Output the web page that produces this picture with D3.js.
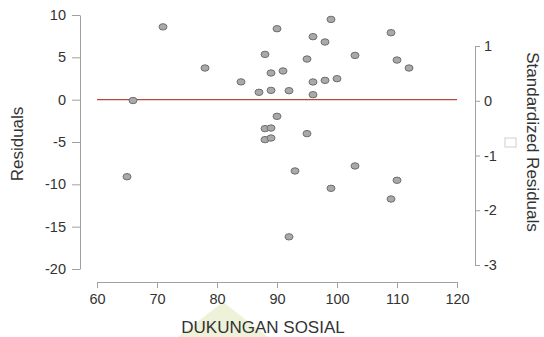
<!DOCTYPE html>
<html>
<head>
<meta charset="utf-8">
<script src="https://cdn.jsdelivr.net/npm/d3@7"></script>
<style>
  body { margin: 0; background: #fff; }
  text { font-family: "Liberation Sans", Arial, sans-serif; fill: #333; }
</style>
</head>
<body>
<script>
// predictor values (DUKUNGAN SOSIAL) and residuals
var xVals = [71, 66, 65, 78, 84, 87, 89, 92, 88, 90, 89, 91, 95, 99, 96, 98, 96, 98,
  100, 96, 103, 109, 110, 112, 90, 88, 89, 88, 89, 95, 93, 92, 103, 99, 110, 109];
var residuals = [8.6, -0.1, -9.1, 3.74, 2.1, 0.87, 1.1, 1.06, 5.35, 8.38, 3.15, 3.39, 4.8,
  9.48, 7.44, 6.81, 2.09, 2.28, 2.48, 0.59, 5.23, 7.91, 4.68, 3.74, -1.97, -3.42, -3.35,
  -4.72, -4.53, -4.01, -8.42, -16.2, -7.83, -10.47, -9.52, -11.73];

var xTicks = [60, 70, 80, 90, 100, 110, 120];
var yTicks = [10, 5, 0, -5, -10, -15, -20];
var stdTicks = [1, 0, -1, -2, -3];

var svg = d3.select('body').append('svg')
  .attr('width', 544)
  .attr('height', 337);

// faint green shape under the x title
svg.append('polygon')
  .attr('points', '223,302 178,337 268,337')
  .style('fill', '#eef2d8');

var x = d3.scaleLinear().domain([60, 120]).range([97, 457]);
var y = d3.scaleLinear().domain([-20, 10]).range([269, 15]);
var yStd = d3.scaleLinear().domain([-3, 1]).range([265, 46]);

// plain hyphen minus like the original
var plain = function(d) { return String(d); };

var styleAxis = function(g) {
  g.select('.domain').attr('stroke', '#a0a0a0');
  g.selectAll('.tick line').attr('stroke', '#a0a0a0');
  g.selectAll('.tick text')
    .style('font-size', '14.5px')
    .style('fill', '#333')
    .style('font-family', '"Liberation Sans", Arial, sans-serif');
};

svg.append('g')
  .attr('transform', 'translate(0,282)')
  .call(d3.axisBottom(x).tickValues(xTicks).tickFormat(plain)
    .tickSize(6).tickSizeOuter(0).tickPadding(6))
  .call(styleAxis);

svg.append('g')
  .attr('transform', 'translate(80,0)')
  .call(d3.axisLeft(y).tickValues(yTicks).tickFormat(plain)
    .tickSize(8).tickSizeOuter(0).tickPadding(6))
  .call(styleAxis);

svg.append('g')
  .attr('transform', 'translate(475,0)')
  .call(d3.axisRight(yStd).tickValues(stdTicks).tickFormat(plain)
    .tickSize(5).tickSizeOuter(0).tickPadding(4))
  .call(styleAxis);

// zero line
svg.append('line')
  .attr('x1', x(60)).attr('x2', x(120))
  .attr('y1', y(0)).attr('y2', y(0))
  .attr('stroke', '#b5493a')
  .attr('stroke-width', 1.3);

svg.selectAll('ellipse.pt')
  .data(xVals)
  .enter()
  .append('ellipse')
    .attr('class', 'pt')
    .attr('cx', function(d) { return x(d); })
    .attr('cy', function(d, i) { return y(residuals[i]); })
    .attr('rx', 4)
    .attr('ry', 3.2)
    .style('fill', '#a9a9a9')
    .style('stroke', '#6f6f6f')
    .style('stroke-width', 1);

svg.append('text')
  .attr('transform', 'translate(23,144) rotate(-90)')
  .attr('text-anchor', 'middle')
  .style('font-size', '17px')
  .text('Residuals');

svg.append('text')
  .attr('transform', 'translate(527,142) rotate(90)')
  .attr('text-anchor', 'middle')
  .style('font-size', '17px')
  .text('Standardized Residuals');

// little empty box glyph next to the right title
svg.append('rect')
  .attr('x', 505).attr('y', 138)
  .attr('width', 11).attr('height', 9)
  .style('fill', 'none')
  .style('stroke', '#cfcfcf');

svg.append('text')
  .attr('x', 263)
  .attr('y', 333)
  .attr('text-anchor', 'middle')
  .style('font-size', '17px')
  .text('DUKUNGAN SOSIAL');
</script>
</body>
</html>
